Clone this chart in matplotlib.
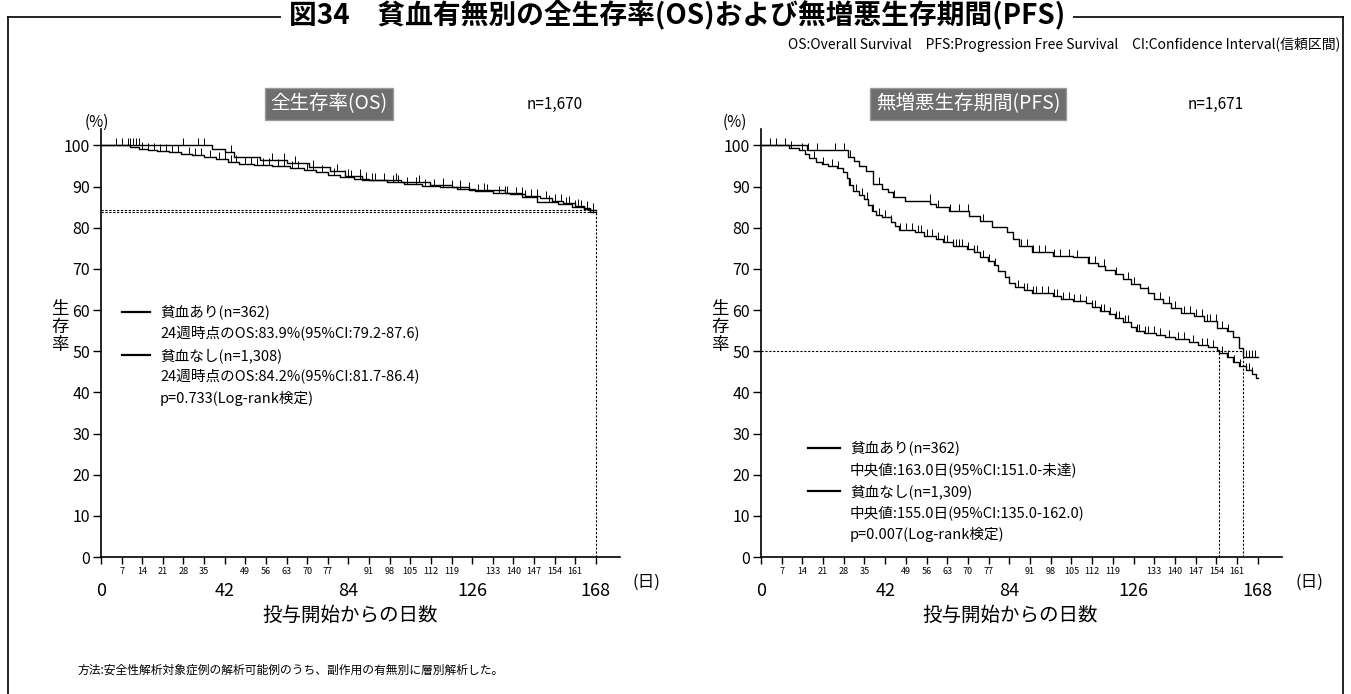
import numpy as np
import matplotlib
matplotlib.use("Agg")
import matplotlib.pyplot as plt
from matplotlib.lines import Line2D

plt.rcParams['font.family'] = ['Noto Sans CJK JP', 'DejaVu Sans']

W, H = 1351, 694

# --- data ---
end_day = 168

# OS, anemia (n=362)
os_t_anemia = [0, 37.8, 42, 45, 54, 63, 70.5, 77.8, 82.7, 88.7, 102, 111.8, 119, 125, 137, 143, 148, 155, 160, 164, 166]
os_s_anemia = [100, 99.2, 98.5, 97.3, 96.5, 95.7, 94.7, 93.7, 92.6, 91.6, 91.2, 90.4, 89.8, 89.2, 88.4, 87.4, 86.3, 85.8, 85.1, 84.6, 83.9]
os_c_anemia = [5, 7, 9, 10, 11, 12, 13, 28, 33, 35, 44, 58, 62, 66, 72, 80, 84, 88, 92,
               100, 108, 116, 122, 130, 138, 144, 152, 158, 161, 163, 165, 167]

# OS, no anemia (n=1,308)
os_t_none = [0, 10, 13, 16, 19, 23, 27, 31, 35, 39, 43, 47, 52, 58, 64, 69, 73, 77, 81, 86,
             91, 97, 103, 109, 115, 121, 127, 133, 139, 144, 149, 153, 157, 161, 164, 166]
os_s_none = [100, 99.6, 99.2, 98.9, 98.6, 98.3, 98.0, 97.6, 97.1, 96.6, 96.1, 95.6, 95.3, 95.0, 94.6, 94.1, 93.5, 92.9, 92.4, 91.9,
             91.5, 91.1, 90.6, 90.2, 89.8, 89.3, 88.9, 88.5, 88.1, 87.7, 87.2, 86.6, 86.0, 85.4, 84.8, 84.2]
os_c_none = [14, 16, 18, 20, 22, 24, 26, 30, 32, 34, 37, 40, 42, 44, 46, 49, 51, 53, 55, 57,
             60, 62, 65, 67, 70, 72, 75, 79, 83, 85, 88, 90, 93, 96, 99, 101, 104, 107, 110, 113,
             116, 119, 122, 125, 128, 131, 135, 137, 141, 143, 146, 148, 151, 154, 156, 159, 162, 165, 167]

# PFS, anemia (n=362)
pfs_t_anemia = [0, 15.4, 29.5, 31.5, 33.3, 35.4, 37.9, 41.0, 43.1, 44.5, 48.7, 57.2, 59.3, 63.5,
                70.5, 74.0, 78.2, 83.1, 85.3, 87.4, 91.6, 98.6, 105.6, 110.5, 114.0, 116.2, 119.7,
                122.5, 125.3, 128.1, 130.9, 133.0, 135.8, 138.6, 142.1, 146.3, 149.9, 154.1, 157.6,
                159.7, 161.8, 163.0]
pfs_s_anemia = [100, 98.8, 97.2, 96.2, 94.9, 93.7, 90.6, 89.4, 88.6, 87.4, 86.4, 85.8, 85.0, 84.1,
                82.9, 81.7, 80.1, 78.9, 77.2, 75.6, 74.0, 73.2, 72.8, 71.5, 70.7, 69.7, 68.7,
                67.5, 66.4, 65.4, 64.2, 62.6, 61.8, 60.6, 59.3, 58.5, 57.3, 55.7, 54.9,
                53.4, 50.8, 48.5]
pfs_c_anemia = [5, 8, 16, 19, 25, 28, 30, 40, 45, 57, 60, 64, 67, 70, 75, 88, 90, 92, 94, 96,
                99, 101, 104, 107, 111, 113, 116, 120, 124, 126, 131, 135, 138, 140, 143, 145,
                147, 149, 151, 152, 154, 156, 158, 164, 165, 166, 167]

# PFS, no anemia (n=1,309)
pfs_t_none = [0, 9.4, 12.9, 15, 16.4, 18.5, 20.6, 22.8, 25.6, 27.7, 29.1, 29.8, 31.2, 33.3, 34.7,
              36.1, 37.5, 38.9, 41.0, 43.8, 45.2, 46.6, 52.2, 55.1, 59.3, 61.4, 64.9, 69.8, 71.9,
              74, 76.8, 78.9, 80.3, 82.4, 83.8, 86, 88.8, 91.6, 98.6, 101.4, 105.6, 109.8, 111.9,
              114.7, 117.6, 119.7, 122.5, 125.3, 126.7, 129.5, 133.7, 136.5, 140, 144.9, 147.8,
              151.3, 154.1, 155.0, 157.6, 159.7, 161.8, 163.9, 166, 167.4]
pfs_s_none = [100, 99.5, 99, 98, 97, 96, 95.5, 95, 94.5, 93.5, 92, 90.5, 89, 88, 87,
              85.5, 84, 83, 82.5, 81.5, 80.5, 79.5, 79, 78, 77.3, 76.5, 75.5, 74.8, 74,
              73, 72, 71, 69.5, 68, 66.5, 65.5, 64.8, 64.2, 63.5, 62.8, 62.3, 61.8, 60.8,
              59.8, 59, 58, 57, 56, 55, 54.5, 54, 53.5, 53, 52.3, 51.5,
              51, 50.3, 49.5, 48.5, 47.5, 46.5, 45.5, 44.5, 43.5]
pfs_c_none = [3, 10, 14, 18, 21, 24, 26, 30, 32, 34, 36, 38, 40, 42, 44, 47, 49, 51, 53, 54,
              56, 58, 60, 62, 63, 65, 66, 67, 68, 70, 72, 73, 75, 77, 79, 84, 87, 89, 90, 92,
              93, 95, 97, 99, 100, 102, 104, 106, 108, 110, 112, 113, 115, 116, 118, 120, 121,
              123, 124, 127, 128, 130, 131, 133, 135, 138, 141, 143, 146, 149, 151, 153, 156,
              158, 160, 162, 164, 165, 166]

os_at_24w = [83.9, 84.2]
pfs_median = [163.0, 155.0]

small_days = [7, 14, 21, 28, 35, 49, 56, 63, 70, 77, 91, 98, 105, 112, 119, 133, 140, 147, 154, 161]
big_days = [0, 42, 84, 126, 168]
yticks = list(range(0, 101, 10))

os_legend = ['貧血あり(n=362)', '24週時点のOS:83.9%(95%CI:79.2-87.6)',
             '貧血なし(n=1,308)', '24週時点のOS:84.2%(95%CI:81.7-86.4)',
             'p=0.733(Log-rank検定)']
pfs_legend = ['貧血あり(n=362)', '中央値:163.0日(95%CI:151.0-未達)',
              '貧血なし(n=1,309)', '中央値:155.0日(95%CI:135.0-162.0)',
              'p=0.007(Log-rank検定)']

fig = plt.figure(figsize=(W / 100, H / 100), dpi=100)


def fx(x):
    return x / W


def fy(y):
    return 1 - y / H


def km(ax, t, s, cens):
    t = np.asarray(t, float)
    s = np.asarray(s, float)
    ax.step(np.append(t, end_day), np.append(s, s[-1]), where='post', color='black', lw=1.0)
    idx = np.searchsorted(t, cens, side='right') - 1
    ax.plot(cens, s[idx], ls='none', marker=[(0, 0), (0, 1)], ms=10, mew=0.7,
            color='black')


def setup(ax):
    ax.set_xlim(0, 176.2)
    ax.set_ylim(0, 104)
    for sp in ['top', 'right']:
        ax.spines[sp].set_visible(False)
    for sp in ['left', 'bottom']:
        ax.spines[sp].set_linewidth(1.2)
    ax.set_yticks(yticks)
    ax.tick_params(axis='y', length=6, width=1, labelsize=11.5, pad=2)
    ax.set_xticks(small_days)
    ax.set_xticklabels([str(d) for d in small_days])
    ax.set_xticks(big_days, minor=True)
    ax.set_xticklabels([str(d) for d in big_days], minor=True)
    ax.tick_params(axis='x', which='major', length=5, width=1, labelsize=6.5, pad=2)
    ax.tick_params(axis='x', which='minor', length=5, width=1, labelsize=13, pad=13)
    ax.text(1.025, -0.06, '(日)', transform=ax.transAxes, fontsize=12, va='center', ha='left')


# ---- left: OS ----
ax1 = fig.add_axes([fx(101), fy(557), fx(519), 428 / H])
setup(ax1)
km(ax1, os_t_anemia, os_s_anemia, os_c_anemia)
km(ax1, os_t_none, os_s_none, os_c_none)
for v in os_at_24w:
    ax1.plot([0, 168], [v, v], ls=(0, (2, 1.5)), color='black', lw=0.8)
ax1.plot([168, 168], [0, max(os_at_24w)], ls=(0, (2, 1.5)), color='black', lw=0.8)

# ---- right: PFS ----
ax2 = fig.add_axes([fx(761), fy(557), fx(521), 428 / H])
setup(ax2)
km(ax2, pfs_t_anemia, pfs_s_anemia, pfs_c_anemia)
km(ax2, pfs_t_none, pfs_s_none, pfs_c_none)
ax2.plot([0, max(pfs_median)], [50, 50], ls=(0, (2, 1.5)), color='black', lw=0.8)
for m in pfs_median:
    ax2.plot([m, m], [0, 50], ls=(0, (2, 1.5)), color='black', lw=0.8)

# axis decorations
for pcx, ycx, lblx in [(97, 60, 350), (735, 720, 1010)]:
    fig.text(fx(pcx), fy(122), '(%)', fontsize=11, ha='center', va='center')
    fig.text(fx(ycx), fy(327), '生\n存\n率', fontsize=12.5, ha='center', va='center', linespacing=1.0)
    fig.text(fx(lblx), fy(615), '投与開始からの日数', fontsize=14, ha='center', va='center')

# panel titles
for cx, title, ncx, ntxt in [(329, '全生存率(OS)', 555, 'n=1,670'),
                             (968, '無増悪生存期間(PFS)', 1216, 'n=1,671')]:
    fig.text(fx(cx), fy(104), title, fontsize=14, color='white', ha='center', va='center',
             bbox=dict(facecolor='#6e6e6e', edgecolor='#9a9a9a', boxstyle='square,pad=0.3'))
    fig.text(fx(ncx), fy(104), ntxt, fontsize=11, ha='center', va='center')

# legends
for lx, lx2, tx, y0, rows in [(122, 150, 160, 312, os_legend), (808, 840, 850, 448, pfs_legend)]:
    for i, row in enumerate(rows):
        y = y0 + i * 21.7
        fig.text(fx(tx), fy(y), row, fontsize=10.5, ha='left', va='center')
        if i in (0, 2):
            fig.add_artist(Line2D([fx(lx), fx(lx2)], [fy(y), fy(y)], color='black', lw=1.6))

# frame and main title
fig.add_artist(Line2D([fx(8), fx(1343)], [fy(17), fy(17)], color='black', lw=1.2))
fig.add_artist(Line2D([fx(8), fx(8)], [fy(17), 0], color='black', lw=1.2))
fig.add_artist(Line2D([fx(1343), fx(1343)], [fy(17), 0], color='black', lw=1.2))
fig.text(fx(677), fy(15), '図34　貧血有無別の全生存率(OS)および無増悪生存期間(PFS)',
         fontsize=20, fontweight='bold', ha='center', va='center',
         bbox=dict(facecolor='white', edgecolor='none', pad=6))
fig.text(fx(1340), fy(45),
         'OS:Overall Survival　PFS:Progression Free Survival　CI:Confidence Interval(信頼区間)',
         fontsize=10, ha='right', va='center')
fig.text(fx(78), fy(670), '方法:安全性解析対象症例の解析可能例のうち、副作用の有無別に層別解析した。',
         fontsize=8.5, ha='left', va='center')

fig.savefig('out.png', dpi=100)
